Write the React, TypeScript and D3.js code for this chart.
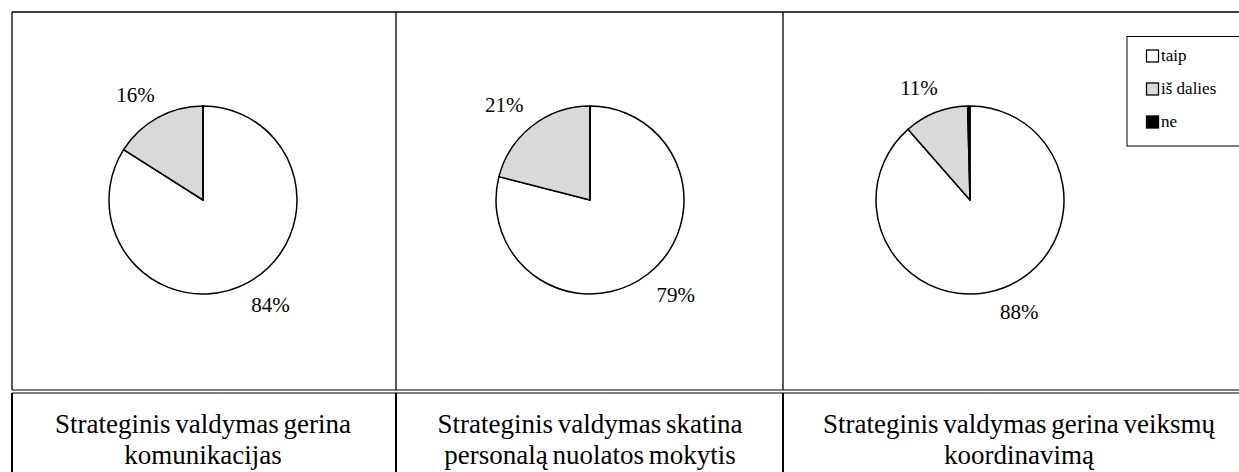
import React, { useEffect, useRef } from "react";
import * as d3 from "d3";

// answer categories (legend order, also slice order clockwise from 12 o'clock)
const categories = ["taip", "iš dalies", "ne"];
const categoryFills = ["#ffffff", "#d9d9d9", "#000000"];

// one pie per table column, values in percent
const taipValues = [84, 79, 88];
const dalisValues = [16, 21, 11];
const neValues = [0, 0, 0.4];

const captionLines = [
  ["Strateginis valdymas gerina", "komunikacijas"],
  ["Strateginis valdymas skatina", "personalą nuolatos mokytis"],
  ["Strateginis valdymas gerina veiksmų", "koordinavimą"],
];

const App: React.FC = () => {
  const svgRef = useRef<SVGSVGElement>(null);
  const width = 1239;
  const height = 472;

  useEffect(() => {
    if (!svgRef.current) return;
    const svg = d3.select(svgRef.current);
    svg.selectAll("*").remove();

    const font = "'Liberation Serif', 'Times New Roman', serif";

    // table grid
    const cellEdges = [12, 396, 783];
    const pieCenters = [203, 590, 970];
    const captionCenters = [203, 590, 1019];
    const cy = 200;
    const radius = 94;

    const grid = svg.append("g").attr("stroke", "#000").attr("fill", "none");
    grid.append("line").attr("x1", 12).attr("x2", width).attr("y1", 12).attr("y2", 12).attr("stroke-width", 1.3);
    cellEdges.forEach((x) => {
      grid.append("line").attr("x1", x).attr("x2", x).attr("y1", 12).attr("y2", 390).attr("stroke-width", 1.3);
      grid.append("line").attr("x1", x).attr("x2", x).attr("y1", 393).attr("y2", height).attr("stroke-width", 2);
    });
    [390, 393].forEach((y) => {
      grid.append("line").attr("x1", 12).attr("x2", width).attr("y1", y).attr("y2", y).attr("stroke-width", 1.2);
    });

    const pie = d3
      .pie<number>()
      .sort(null)
      .value((d) => d);

    const arc = d3.arc<d3.PieArcDatum<number>>().innerRadius(0).outerRadius(radius);

    taipValues.forEach((_, i) => {
      const values = [taipValues[i], dalisValues[i], neValues[i]];
      const arcs = pie(values);

      const g = svg.append("g").attr("transform", `translate(${pieCenters[i]},${cy})`);

      g.selectAll("path.slice")
        .data(arcs)
        .enter()
        .append("path")
        .attr("class", "slice")
        .attr("d", (d) => arc(d) as string)
        .attr("fill", (d, j) => categoryFills[j])
        .attr("stroke", "#000")
        .attr("stroke-width", 1.5)
        .attr("stroke-linejoin", "round");

      // percentage labels outside the pie
      g.selectAll("text.lbl")
        .data(arcs.filter((d) => d.value >= 1))
        .enter()
        .append("text")
        .attr("class", "lbl")
        .attr("x", (d) => Math.sin((d.startAngle + d.endAngle) / 2) * 140)
        .attr("y", (d) => -Math.cos((d.startAngle + d.endAngle) / 2) * 120 + 7)
        .attr("text-anchor", "middle")
        .style("font-family", font)
        .style("font-size", "21px")
        .style("fill", "#000")
        .text((d) => `${Math.round(d.value)}%`);

      // caption in the lower row
      const cap = svg
        .append("text")
        .attr("text-anchor", "middle")
        .style("font-family", font)
        .style("font-size", "27px")
        .style("word-spacing", "-2px")
        .style("fill", "#000");
      captionLines[i].forEach((line, k) => {
        cap
          .append("tspan")
          .attr("x", captionCenters[i])
          .attr("y", 433 + k * 31)
          .text(line);
      });
    });

    // legend
    const legend = svg.append("g");
    legend
      .append("rect")
      .attr("x", 1127)
      .attr("y", 36.5)
      .attr("width", 130)
      .attr("height", 109.5)
      .attr("fill", "#fff")
      .attr("stroke", "#000")
      .attr("stroke-width", 1);

    const legendY = d3.scalePoint<string>().domain(categories).range([56, 122]);
    const item = legend
      .selectAll("g.item")
      .data(categories)
      .enter()
      .append("g")
      .attr("class", "item")
      .attr("transform", (d) => `translate(1146,${legendY(d)})`);
    item
      .append("rect")
      .attr("x", 0.5)
      .attr("y", -6)
      .attr("width", 12)
      .attr("height", 12)
      .attr("fill", (d, j) => categoryFills[j])
      .attr("stroke", "#000")
      .attr("stroke-width", 1.3);
    item
      .append("text")
      .attr("x", 15)
      .attr("y", 5)
      .style("font-family", font)
      .style("font-size", "17px")
      .style("fill", "#000")
      .text((d) => d);
  }, []);

  return (
    <svg
      ref={svgRef}
      width={width}
      height={height}
      viewBox={`0 0 ${width} ${height}`}
      style={{ position: "absolute", left: 0, top: 0, background: "#fff" }}
    />
  );
};

export default App;
